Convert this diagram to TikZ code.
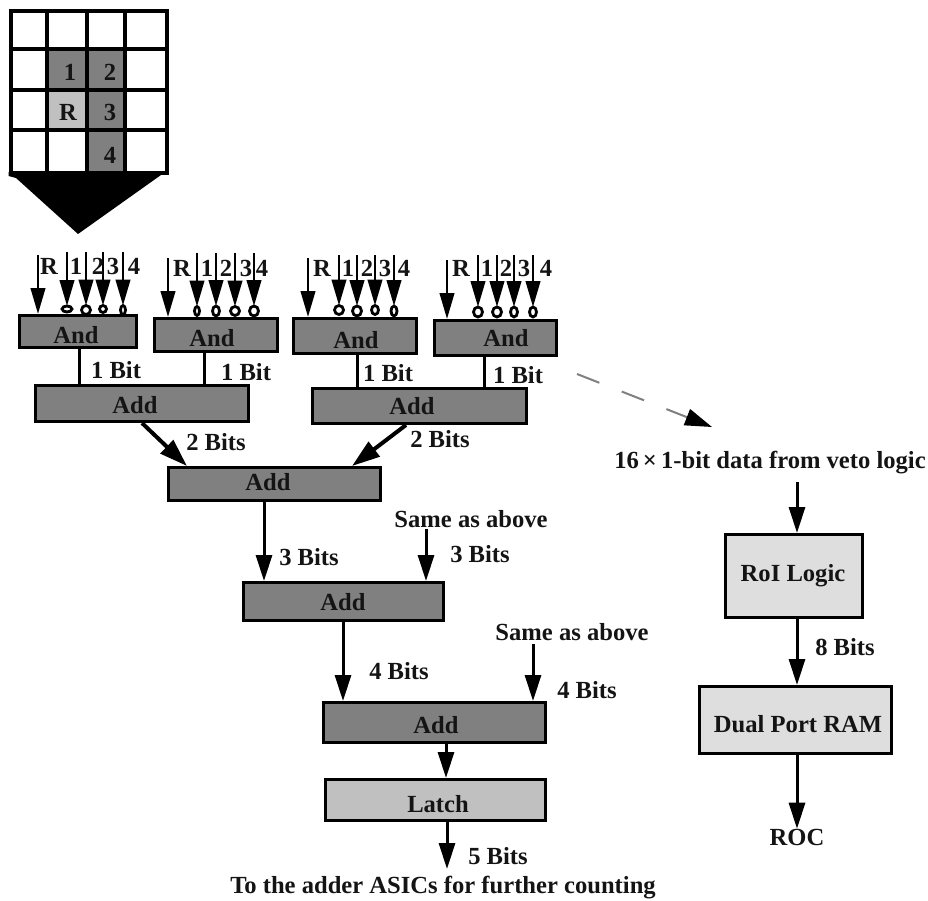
\documentclass[tikz,border=0pt]{standalone}
\usepackage{fontspec}
\setmainfont{Liberation Serif}[BoldFont={Liberation Serif Bold}]
\usetikzlibrary{arrows.meta,shapes.geometric}
\definecolor{dk}{HTML}{808080}
\definecolor{lt}{HTML}{C0C0C0}
\definecolor{vl}{HTML}{DEDEDE}
\tikzset{
  lbl/.style={inner sep=0pt,outer sep=0pt,text=black!92,font=\fontsize{24.6}{27}\selectfont\bfseries},
  boxn/.style={draw=black,line width=3pt,inner sep=0pt},
  bub/.style={draw=black,fill=white,ellipse,line width=2.8pt,inner sep=0pt,outer sep=0pt},
  arr/.style={draw=black,line width=3pt,-{Triangle[length=26pt,width=16pt]}},
  inarr/.style={draw=black,line width=2.6pt,-{Triangle[length=26pt,width=14.5pt]}},
  wire/.style={draw=black,line width=3pt},
  thick arr/.style={draw=black,line width=4pt,-{Triangle[length=28pt,width=18pt]}},
  dasharr/.style={draw=dk,line width=2pt,dash pattern=on 24pt off 24pt,-{Triangle[length=27pt,width=17pt,color=black,fill=black]}}
}
% box from its corners: name,x1,y1,x2,y2,fill
\newcommand{\bx}[6]{%
  \pgfmathsetmacro{\bw}{#4-#2-3}\pgfmathsetmacro{\bh}{#5-#3-3}%
  \pgfmathsetmacro{\bcx}{(#2+#4)/2}\pgfmathsetmacro{\bcy}{(#3+#5)/2}%
  \node[boxn,fill=#6,minimum width=\bw pt,minimum height=\bh pt] (#1) at (\bcx,\bcy) {};}
% input arrow with optional inversion bubble: name,x,ytop,ybubble,rx,ry
\newcommand{\inp}[6]{%
  \coordinate (#1t) at (#2,#3);
  \node[bub,minimum width=#5*2 pt,minimum height=#6*2 pt] (#1b) at (#2,#4) {};
  \draw[inarr] (#1t) -- (#1b.north);}
\begin{document}
\begin{tikzpicture}[x=1pt,y=-1pt]
\useasboundingbox (0,0) rectangle (928,901);
% grid of cells
\fill[dk] (48,50) rectangle (124,90);
\fill[lt] (48,90) rectangle (87,130);
\fill[dk] (87,90) rectangle (124,130);
\fill[dk] (87,130) rectangle (124,172);
\draw[line width=4pt,black] (10.5,11) rectangle (167,173);
\foreach \gx in {47,87,125} {\draw[line width=4pt,black] (\gx,11) -- (\gx,173);}
\foreach \gy in {49,90,130} {\draw[line width=4pt,black] (10.5,\gy) -- (167,\gy);}
\fill[black] (8.5,172) -- (168.5,172) -- (168.5,175) -- (161,175) -- (78,234) -- (16,178) -- (8.5,176) -- cycle;
\node[lbl] (g1) at (70,72) {1};
\node[lbl] (g2) at (110,72) {2};
\node[lbl] (gR) at (68,112) {R};
\node[lbl] (g3) at (110,112) {3};
\node[lbl] (g4) at (110,155) {4};
% boxes
\bx{and1}{18}{314}{138}{349}{dk}
\bx{and2}{153}{317}{279}{353}{dk}
\bx{and3}{292}{317}{418}{355}{dk}
\bx{and4}{433}{319}{558}{357}{dk}
\bx{add1}{34}{384}{250}{423}{dk}
\bx{add2}{311}{387}{528}{425}{dk}
\bx{add3}{167}{466}{382}{502}{dk}
\bx{add4}{242}{581}{445}{622}{dk}
\bx{add5}{322}{701}{547}{744}{dk}
\bx{latch}{324}{778}{547}{822}{lt}
\bx{roi}{724}{533}{864}{619}{vl}
\bx{ram}{698}{685}{893}{755}{vl}
\node[lbl] (tand1) at (76,335) {And};
\node[lbl] (tand2) at (212,338) {And};
\node[lbl] (tand3) at (356,340) {And};
\node[lbl] (tand4) at (506,338) {And};
\node[lbl] (tadd1) at (135,405) {Add};
\node[lbl] (tadd2) at (412,406) {Add};
\node[lbl] (tadd3) at (268,482) {Add};
\node[lbl] (tadd4) at (343,602) {Add};
\node[lbl] (tadd5) at (436,725) {Add};
\node[lbl] (tlatch) at (438,804) {Latch};
\node[lbl] (troi) at (793,576) {RoI Logic};
\node[lbl] (tram) at (798,724) {Dual Port RAM};
% inputs, And 1
\coordinate (r1t) at (38,255);
\draw[inarr] (r1t) -- (38,0 |- and1.north);
\inp{a1}{67}{252}{309}{5}{3}
\inp{a2}{86}{252}{310}{4.5}{4.5}
\inp{a3}{103}{252}{309}{3.5}{3.5}
\inp{a4}{123}{252}{310}{2.5}{4.5}
\node[lbl] (la0) at (49,266) {R};
\node[lbl] (la1) at (76,266) {1};
\node[lbl] (la2) at (98,266) {2};
\node[lbl] (la3) at (113,266) {3};
\node[lbl] (la4) at (134,266) {4};
% And 2
\coordinate (r2t) at (168,258);
\draw[inarr] (r2t) -- (168,0 |- and2.north);
\inp{b1}{197}{253}{311}{2.5}{4.5}
\inp{b2}{216}{253}{311}{3.5}{5}
\inp{b3}{235}{253}{311}{4.5}{4.5}
\inp{b4}{254}{253}{311}{4.5}{5}
\node[lbl] (lb0) at (182,268) {R};
\node[lbl] (lb1) at (207,268) {1};
\node[lbl] (lb2) at (226,268) {2};
\node[lbl] (lb3) at (246,268) {3};
\node[lbl] (lb4) at (262,268) {4};
% And 3
\coordinate (r3t) at (308,258);
\draw[inarr] (r3t) -- (308,0 |- and3.north);
\inp{c1}{339}{255}{310}{4.5}{4.5}
\inp{c2}{357}{255}{311}{4.5}{5}
\inp{c3}{375}{255}{310}{3.5}{4.5}
\inp{c4}{394}{255}{311}{3}{5}
\node[lbl] (lc0) at (322,268) {R};
\node[lbl] (lc1) at (348,268) {1};
\node[lbl] (lc2) at (367,268) {2};
\node[lbl] (lc3) at (385,268) {3};
\node[lbl] (lc4) at (404,268) {4};
% And 4
\coordinate (r4t) at (447,260);
\draw[inarr] (r4t) -- (447,0 |- and4.north);
\inp{d1}{478}{255}{312}{4.5}{5}
\inp{d2}{497}{255}{312}{4.5}{5}
\inp{d3}{514}{255}{312}{3.5}{5}
\inp{d4}{533}{255}{312}{3.5}{5}
\node[lbl] (ld0) at (461,268) {R};
\node[lbl] (ld1) at (487,268) {1};
\node[lbl] (ld2) at (506,268) {2};
\node[lbl] (ld3) at (524,268) {3};
\node[lbl] (ld4) at (546,268) {4};
% wires
\draw[wire] (79,0 |- and1.south) -- (79,0 |- add1.north);
\draw[wire] (204,0 |- and2.south) -- (204,0 |- add1.north);
\draw[wire] (357,0 |- and3.south) -- (357,0 |- add2.north);
\draw[wire] (484,0 |- and4.south) -- (484,0 |- add2.north);
\node[lbl] at (116,370) (b1) {1 Bit};
\node[lbl] at (246,372) (b2) {1 Bit};
\node[lbl] at (388,373) (b3) {1 Bit};
\node[lbl] at (518,375) (b4) {1 Bit};
% adders
\draw[thick arr] (142,0 |- add1.south) -- (187,0 |- add3.north);
\draw[thick arr] (406,0 |- add2.south) -- (352,0 |- add3.north);
\node[lbl] (b2a) at (216,442) {2 Bits};
\node[lbl] (b2b) at (440,439) {2 Bits};
\draw[arr] (264,0 |- add3.south) -- (264,0 |- add4.north);
\node[lbl] (b3a) at (309,557) {3 Bits};
\node[lbl] (same1) at (471,519) {Same as above};
\node[lbl] (b3b) at (480,554) {3 Bits};
\coordinate (s1t) at (426,529);
\draw[arr] (s1t) -- (426,0 |- add4.north);
\draw[arr] (343,0 |- add4.south) -- (343,0 |- add5.north);
\node[lbl] (same2) at (572,632) {Same as above};
\node[lbl] (b4a) at (399,671) {4 Bits};
\node[lbl] (b4b) at (587,690) {4 Bits};
\coordinate (s2t) at (533,644);
\draw[arr] (s2t) -- (533,0 |- add5.north);
\draw[arr] (446,0 |- add5.south) -- (446,0 |- latch.north);
\node[lbl] (b5) at (498,856) {5 Bits};
\node[lbl] (adder) at (443,888) {To the adder ASICs for further counting};
\coordinate (lt) at (447,869);
\draw[arr] (447,0 |- latch.south) -- (lt);
% right column
\coordinate (ds) at (577,374);
\coordinate (de) at (712,427);
\draw[dasharr] (ds) -- (de);
\node[lbl] (veto) at (770,463) {16\,×\,1-bit data from veto logic};
\coordinate (vt) at (797,482);
\draw[arr] (vt) -- (797,0 |- roi.north);
\node[lbl] (b8) at (845,647) {8 Bits};
\draw[arr] (797,0 |- roi.south) -- (797,0 |- ram.north);
\node[lbl] (roc) at (797,837) {ROC};
\draw[arr] (797,0 |- ram.south) -- (797,0 |- roc.north);
\end{tikzpicture}
\end{document}
